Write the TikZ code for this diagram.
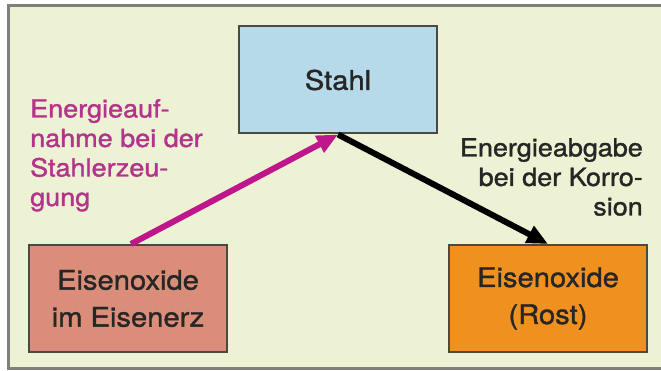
\documentclass[tikz,border=0pt]{standalone}
\usepackage{fontspec}
\setmainfont{TeX Gyre Heros}[FakeStretch=1.08,FakeBold=1.3]
\usetikzlibrary{arrows.meta}
\definecolor{bg}{HTML}{EEF2D4}
\definecolor{frameline}{HTML}{7E807A}
\definecolor{boxline}{HTML}{4A4A42}
\definecolor{stahlfill}{HTML}{B6DAEA}
\definecolor{erzfill}{HTML}{DA8E79}
\definecolor{rostfill}{HTML}{EF901F}
\definecolor{arrowmag}{HTML}{C0168C}
\definecolor{textmag}{HTML}{B4348C}
\definecolor{textdark}{HTML}{262626}
\begin{document}
\begin{tikzpicture}[x=1pt,y=-1pt,
  box/.style={draw=boxline, line width=2pt, minimum width=198pt, minimum height=107pt,
    inner sep=0pt, align=center, text=textdark, font=\fontsize{27}{37}\selectfont},
  lbl/.style={inner sep=0pt, font=\fontsize{25}{29.5}\selectfont},
  conn/.style={line width=6pt, -{Triangle[length=21pt,width=18pt]}}]
\useasboundingbox (0,0) rectangle (661,371);
\fill[white] (0,0) rectangle (661,371);
\fill[bg] (8.5,5.5) rectangle (661,368);
\draw[frameline, line width=3pt] (661,5.5) -- (8.5,5.5) -- (8.5,368) -- (661,368);

\node[box, fill=stahlfill] (stahl) at (338,80) {Stahl};
\node[box, fill=erzfill] (erz) at (128,298.5) {Eisenoxide\\im Eisenerz};
\node[box, fill=rostfill] (rost) at (548,298.5) {Eisenoxide\\(Rost)};

\draw[conn, arrowmag] ([xshift=3pt]erz.north) -- (stahl.south);
\draw[conn, black] (stahl.south) -- (rost.north);

\node[lbl, text=textmag, align=left, anchor=north west] (auf) at (30,99)
  {Energieauf-\\nahme bei der\\Stahlerzeu-\\gung};
\node[lbl, text=textdark, align=right, anchor=north east] (ab) at (643,138)
  {Energieabgabe\\bei der Korro-\\sion};
\end{tikzpicture}
\end{document}
